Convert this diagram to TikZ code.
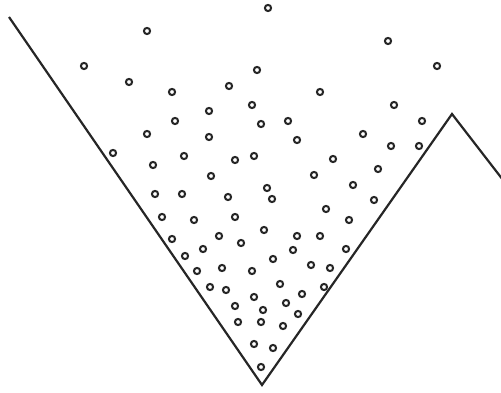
\documentclass[tikz,border=0pt]{standalone}
\begin{document}
\begin{tikzpicture}[x=1pt,y=-1pt,
  wall/.style={line width=2.2pt,line join=miter,black!85},
  ball/.style={line width=2pt,black!85}]
\useasboundingbox (0,0) rectangle (501,393);
\coordinate (L) at (9,17);
\coordinate (B) at (262,385);
\coordinate (P) at (452,114);
\coordinate (R) at (503,180);
\draw[wall] (L) -- (B) -- (P) -- (R);
\foreach \x/\y in {268/8,147/31,388/41,437/66,84/66,129/82,257/70,172/92,229/86,320/92,
  252/105,394/105,209/111,175/121,261/124,288/121,422/121,147/134,209/137,297/140,
  363/134,113/153,184/156,235/160,254/156,333/159,391/146,419/146,153/165,211/176,
  314/175,378/169,353/185,267/188,272/199,374/200,155/194,182/194,228/197,326/209,
  162/217,194/220,235/217,349/220,264/230,172/239,219/236,241/243,297/236,320/236,
  346/249,185/256,203/249,293/250,273/259,311/265,330/268,197/271,222/268,252/271,
  280/284,210/287,226/290,302/294,324/287,254/297,286/303,235/306,263/310,298/314,
  238/322,261/322,283/326,254/344,273/348,261/367}
  \draw[ball] (\x,\y) circle[radius=3.1];
\end{tikzpicture}
\end{document}
